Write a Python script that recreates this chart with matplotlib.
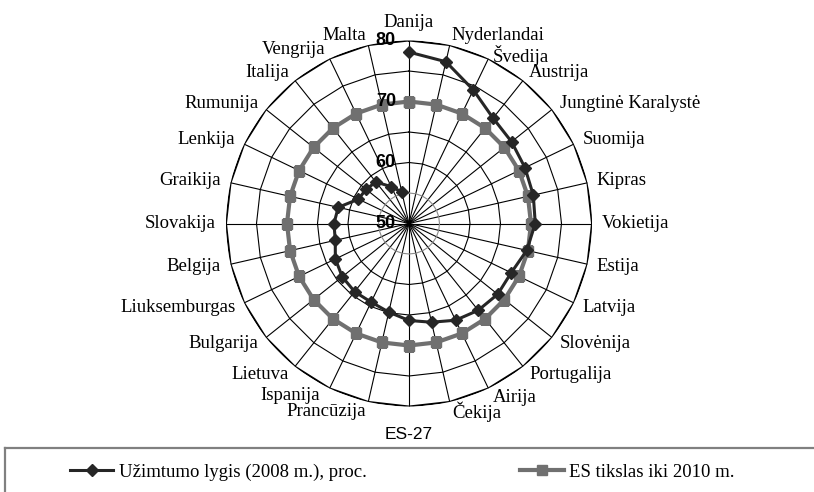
import numpy as np
import matplotlib.pyplot as plt
from matplotlib.lines import Line2D

# ES šalys ir užimtumo lygis 2008 m.
countries = ['Danija', 'Nyderlandai', 'Švedija', 'Austrija', 'Jungtinė Karalystė',
             'Suomija', 'Kipras', 'Vokietija', 'Estija', 'Latvija', 'Slovėnija',
             'Portugalija', 'Airija', 'Čekija', 'ES-27', 'Prancūzija', 'Ispanija',
             'Lietuva', 'Bulgarija', 'Liuksemburgas', 'Belgija', 'Slovakija',
             'Graikija', 'Lenkija', 'Rumunija', 'Italija', 'Vengrija', 'Malta']
employment_2008 = [78.1, 77.2, 74.3, 72.1, 71.5, 71.1, 70.9, 70.7, 69.8, 68.6, 68.6,
                   68.2, 67.6, 66.6, 65.9, 64.9, 64.3, 64.3, 64.0, 63.4, 62.4, 62.3,
                   61.9, 59.2, 59.0, 58.7, 56.7, 55.3]
target_2010 = [70] * len(countries)
grid_levels = [55, 60, 65, 70, 75, 80]
tick_labels = ['50', '60', '70', '80']

label1 = 'Užimtumo lygis (2008 m.), proc.'
label2 = 'ES tikslas iki 2010 m.'

# small pixel nudges for crowded labels (x, y)
nudge = {'Švedija': (0, -6), 'Ispanija': (-5, 2)}

n = len(countries)
theta = np.arange(n) * 2 * np.pi / n
theta_c = np.append(theta, theta[0])

fig = plt.figure(figsize=(8.14, 4.92), dpi=100)
ax = fig.add_axes([226 / 814, 85.5 / 492, 366 / 814, 366 / 492], projection='polar')
ax.set_theta_zero_location('N')
ax.set_theta_direction(-1)
ax.set_ylim(50, 80)
ax.grid(False)
ax.set_xticks([])
ax.set_yticks([])
ax.spines['polar'].set_visible(False)
ax.patch.set_alpha(0)

# spokes
for t in theta:
    ax.plot([t, t], [50, 80], color='black', lw=0.8, zorder=1)

# polygon gridlines
for lev in grid_levels:
    col = '#8a8a8a' if lev == 55 else 'black'
    lw = 1.4 if lev == 80 else 0.8
    ax.plot(theta_c, [lev] * (n + 1), color=col, lw=lw, zorder=1)

# series (target ring closed, employment line open)
ax.plot(theta_c, target_2010 + target_2010[:1], color='#707070', lw=3,
        marker='s', ms=7.5, zorder=3)
ax.plot(theta, employment_2008, color='#262626', lw=2.2,
        marker='D', ms=6, zorder=4)

# scale labels
for lab in tick_labels:
    ax.annotate(lab, xy=(0, float(lab)), xytext=(-13, 0), textcoords='offset pixels',
                ha='right', va='center', fontsize=13, fontweight='bold',
                family='Liberation Sans', zorder=5, annotation_clip=False)

# category labels
for t, name in zip(theta, countries):
    s = np.sin(t)
    off = nudge.get(name, (0, 0))
    if abs(s) < 1e-6:
        if np.cos(t) > 0:
            ax.annotate(name, xy=(t, 81.6), xytext=off, textcoords='offset pixels',
                        ha='center', va='bottom', fontsize=13.5,
                        family='Liberation Serif', annotation_clip=False)
        else:
            ax.annotate(name, xy=(t, 83.4), xytext=off, textcoords='offset pixels',
                        ha='center', va='top', fontsize=12.5,
                        family='Liberation Sans', annotation_clip=False)
    else:
        ax.annotate(name, xy=(t, 81.6), xytext=off, textcoords='offset pixels',
                    ha='left' if s > 0 else 'right', va='center',
                    fontsize=13.5, family='Liberation Serif', annotation_clip=False)

# legend box
lax = fig.add_axes([5 / 814, 0, 1, 44 / 492])
lax.set_xticks([])
lax.set_yticks([])
for side in ['right', 'bottom']:
    lax.spines[side].set_visible(False)
for side in ['top', 'left']:
    lax.spines[side].set_color('#808080')
    lax.spines[side].set_linewidth(1.6)

handles = [Line2D([], [], color='#262626', lw=2.2, marker='D', ms=6),
           Line2D([], [], color='#707070', lw=3, marker='s', ms=7.5)]
lax.legend(handles, [label1, label2], loc='center left', bbox_to_anchor=(65 / 814, 0.45),
           ncol=2, frameon=False, borderpad=0, borderaxespad=0, handlelength=2.3,
           handletextpad=0.3, columnspacing=8.2,
           prop={'family': 'Liberation Serif', 'size': 13.5})

fig.savefig('out.png', dpi=100)
